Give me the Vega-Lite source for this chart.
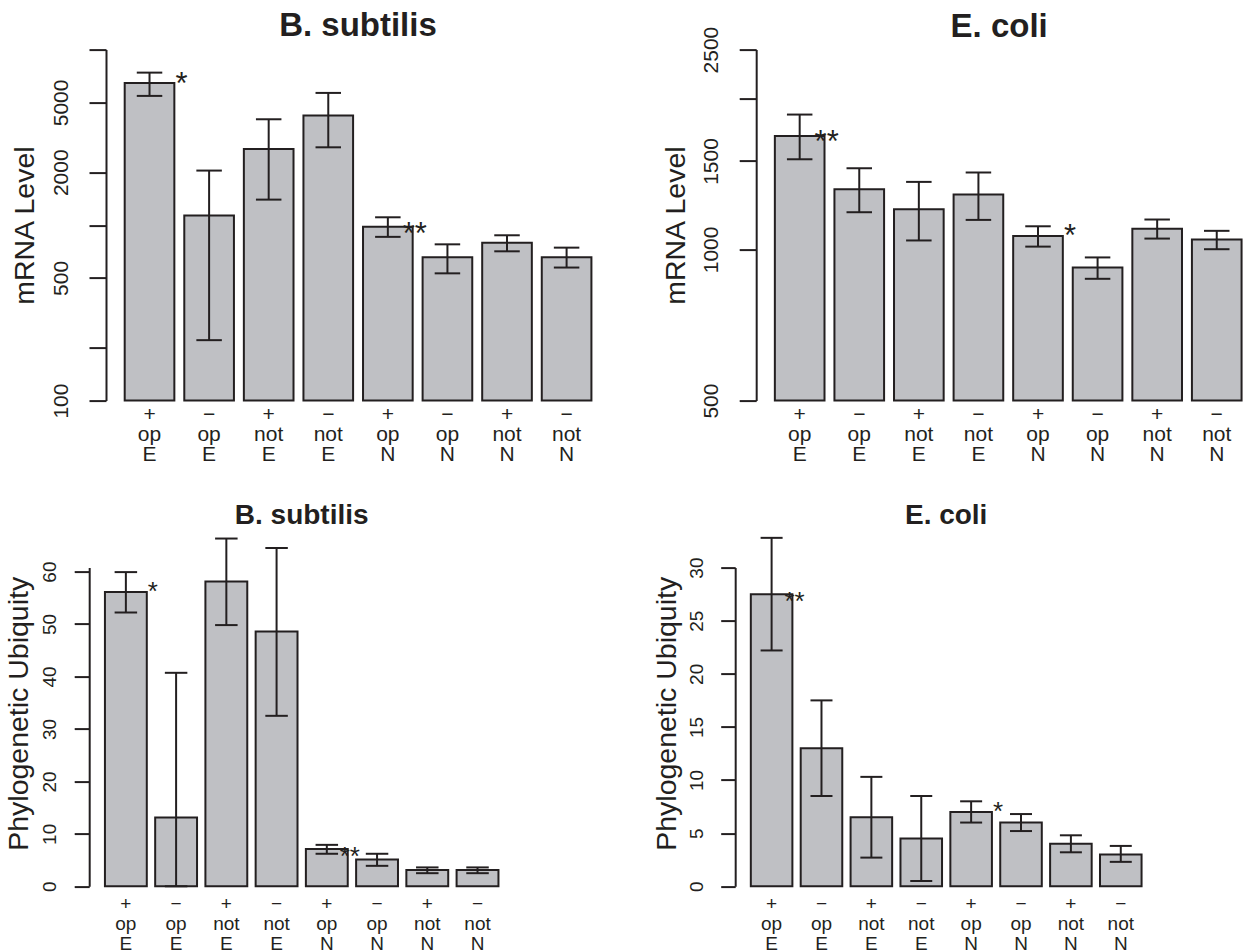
{
  "$schema": "https://vega.github.io/schema/vega-lite/v6.json",
  "background": "white",
  "padding": {"left": 4.2, "top": 9.6, "right": 0, "bottom": 0},
  "config": {
    "view": {"stroke": null},
    "font": "Liberation Sans",
    "axis": {"grid": false, "domainColor": "#231f20", "tickColor": "#231f20", "labelColor": "#231f20", "titleColor": "#231f20", "labelFont": "Liberation Sans", "titleFont": "Liberation Sans", "titleFontWeight": "normal", "domainWidth": 2, "tickWidth": 2, "labelFlush": false, "labelOverlap": false},
    "title": {"font": "Liberation Sans", "fontWeight": "bold", "color": "#231f20", "frame": "group", "anchor": "middle"}
  },
  "datasets": {
    "bs_mrna": [
      {"group": "+|op|E", "mean": 6457, "lo": 5447, "hi": 7393, "sig": "*"},
      {"group": "−|op|E", "mean": 1133, "lo": 221, "hi": 2045, "sig": ""},
      {"group": "+|not|E", "mean": 2718, "lo": 1397, "hi": 4009, "sig": ""},
      {"group": "−|not|E", "mean": 4206, "lo": 2775, "hi": 5665, "sig": ""},
      {"group": "+|op|N", "mean": 980, "lo": 857, "hi": 1108, "sig": "**"},
      {"group": "−|op|N", "mean": 655, "lo": 531, "hi": 777, "sig": ""},
      {"group": "+|not|N", "mean": 792, "lo": 709, "hi": 875, "sig": ""},
      {"group": "−|not|N", "mean": 655, "lo": 573, "hi": 744, "sig": ""}
    ],
    "ec_mrna": [
      {"group": "+|op|E", "mean": 1683, "lo": 1512, "hi": 1856, "sig": "**"},
      {"group": "−|op|E", "mean": 1318, "lo": 1186, "hi": 1451, "sig": ""},
      {"group": "+|not|E", "mean": 1202, "lo": 1042, "hi": 1363, "sig": ""},
      {"group": "−|not|E", "mean": 1286, "lo": 1145, "hi": 1423, "sig": ""},
      {"group": "+|op|N", "mean": 1063, "lo": 1013, "hi": 1112, "sig": "*"},
      {"group": "−|op|N", "mean": 920, "lo": 874, "hi": 964, "sig": ""},
      {"group": "+|not|N", "mean": 1099, "lo": 1051, "hi": 1147, "sig": ""},
      {"group": "−|not|N", "mean": 1046, "lo": 1001, "hi": 1089, "sig": ""}
    ],
    "bs_ubiq": [
      {"group": "+|op|E", "mean": 56.1, "lo": 52.2, "hi": 59.9, "sig": "*"},
      {"group": "−|op|E", "mean": 13.1, "lo": 0, "hi": 40.7, "sig": ""},
      {"group": "+|not|E", "mean": 58.1, "lo": 49.8, "hi": 66.3, "sig": ""},
      {"group": "−|not|E", "mean": 48.6, "lo": 32.5, "hi": 64.5, "sig": ""},
      {"group": "+|op|N", "mean": 7.1, "lo": 6.2, "hi": 7.9, "sig": "**"},
      {"group": "−|op|N", "mean": 5.1, "lo": 3.9, "hi": 6.2, "sig": ""},
      {"group": "+|not|N", "mean": 3.1, "lo": 2.5, "hi": 3.6, "sig": ""},
      {"group": "−|not|N", "mean": 3.1, "lo": 2.5, "hi": 3.6, "sig": ""}
    ],
    "ec_ubiq": [
      {"group": "+|op|E", "mean": 27.5, "lo": 22.2, "hi": 32.8, "sig": "**"},
      {"group": "−|op|E", "mean": 13.0, "lo": 8.5, "hi": 17.5, "sig": ""},
      {"group": "+|not|E", "mean": 6.5, "lo": 2.7, "hi": 10.3, "sig": ""},
      {"group": "−|not|E", "mean": 4.5, "lo": 0.5, "hi": 8.5, "sig": ""},
      {"group": "+|op|N", "mean": 7.0, "lo": 6.0, "hi": 8.0, "sig": "*"},
      {"group": "−|op|N", "mean": 6.0, "lo": 5.2, "hi": 6.8, "sig": ""},
      {"group": "+|not|N", "mean": 4.0, "lo": 3.2, "hi": 4.8, "sig": ""},
      {"group": "−|not|N", "mean": 3.0, "lo": 2.3, "hi": 3.8, "sig": ""}
    ]
  },
  "columns": 1,
  "align": "none",
  "spacing": 37,
  "concat": [
    {
      "spacing": 51,
      "hconcat": [
        {
          "data": {"name": "bs_mrna"},
          "width": 520.8, "height": 351,
          "title": {"text": "B. subtilis", "fontSize": 33, "offset": 5.4, "dx": 8.4},
          "encoding": {
            "x": {"field": "group", "type": "nominal", "sort": null,
              "scale": {"paddingInner": 0.1667, "paddingOuter": 0.4538, "align": 0.6565},
              "axis": {"title": null, "domain": false, "ticks": false, "tickSize": 0, "labelAngle": 0, "labelAlign": "center", "labelBaseline": "alphabetic", "labelFontSize": 21, "labelLineHeight": 20, "labelPadding": 20, "labelExpr": "split(datum.label, '|')"}},
            "y": {"field": "mean", "type": "quantitative", "scale": {"type": "log", "domain": [100, 10000], "nice": false},
              "axis": {"title": "mRNA Level", "offset": -16.8, "titleFontSize": 28.5, "titleBaseline": "alphabetic", "titleX": -72,
                "values": [100, 200, 500, 1000, 2000, 5000, 10000],
                "labelExpr": "indexof([100, 500, 2000, 5000], datum.value) >= 0 ? format(datum.value, 'd') : ''",
                "labelAngle": -90, "labelAlign": "center", "labelBaseline": "alphabetic", "labelFontSize": 21, "labelPadding": 21.3, "tickSize": 17}}
          },
          "layer": [
            {"mark": {"type": "bar", "fill": "#bfc0c4", "stroke": "#231f20", "strokeWidth": 2},
             "encoding": {"y2": {"datum": 100}}},
            {"mark": {"type": "rule", "strokeWidth": 2, "color": "#231f20"},
             "encoding": {"y": {"field": "lo", "type": "quantitative", "title": "mRNA Level"}, "y2": {"field": "hi"}}},
            {"mark": {"type": "tick", "orient": "horizontal", "size": 25.5, "thickness": 2, "color": "#231f20", "opacity": 1},
             "encoding": {"y": {"field": "lo", "type": "quantitative", "title": "mRNA Level"}}},
            {"mark": {"type": "tick", "orient": "horizontal", "size": 25.5, "thickness": 2, "color": "#231f20", "opacity": 1},
             "encoding": {"y": {"field": "hi", "type": "quantitative", "title": "mRNA Level"}}},
            {"transform": [{"filter": "datum.sig == '*'"}],
             "mark": {"type": "text", "fontSize": 31, "dx": 32, "dy": 11.5, "align": "center", "baseline": "alphabetic", "color": "#231f20"},
             "encoding": {"text": {"field": "sig"}}},
            {"transform": [{"filter": "datum.sig == '**'"}],
             "mark": {"type": "text", "fontSize": 31, "dx": 27, "dy": 17, "align": "center", "baseline": "alphabetic", "color": "#231f20"},
             "encoding": {"text": {"field": "sig"}}}
          ]
        },
        {
          "data": {"name": "ec_mrna"},
          "width": 486, "height": 351,
          "title": {"text": "E. coli", "fontSize": 33, "offset": -17.6},
          "encoding": {
            "x": {"field": "group", "type": "nominal", "sort": null,
              "scale": {"paddingInner": 0.1667, "paddingOuter": 0.1618, "align": 0.968},
              "axis": {"title": null, "domain": false, "ticks": false, "tickSize": 0, "labelAngle": 0, "labelAlign": "center", "labelBaseline": "alphabetic", "labelFontSize": 21, "labelLineHeight": 20, "labelPadding": 20, "labelExpr": "split(datum.label, '|')"}},
            "y": {"field": "mean", "type": "quantitative", "scale": {"type": "log", "domain": [500, 2500], "nice": false},
              "axis": {"title": "mRNA Level", "titleFontSize": 28.5, "titleBaseline": "alphabetic", "titleX": -71.7,
                "values": [500, 1000, 1500, 2000, 2500],
                "labelExpr": "datum.value == 2000 ? '' : format(datum.value, 'd')",
                "labelAngle": -90, "labelAlign": "center", "labelBaseline": "alphabetic", "labelFontSize": 21, "labelPadding": 21.3, "tickSize": 17}}
          },
          "layer": [
            {"mark": {"type": "bar", "fill": "#bfc0c4", "stroke": "#231f20", "strokeWidth": 2},
             "encoding": {"y2": {"datum": 500}}},
            {"mark": {"type": "rule", "strokeWidth": 2, "color": "#231f20"},
             "encoding": {"y": {"field": "lo", "type": "quantitative", "title": "mRNA Level"}, "y2": {"field": "hi"}}},
            {"mark": {"type": "tick", "orient": "horizontal", "size": 25.5, "thickness": 2, "color": "#231f20", "opacity": 1},
             "encoding": {"y": {"field": "lo", "type": "quantitative", "title": "mRNA Level"}}},
            {"mark": {"type": "tick", "orient": "horizontal", "size": 25.5, "thickness": 2, "color": "#231f20", "opacity": 1},
             "encoding": {"y": {"field": "hi", "type": "quantitative", "title": "mRNA Level"}}},
            {"transform": [{"filter": "datum.sig == '*'"}],
             "mark": {"type": "text", "fontSize": 31, "dx": 32, "dy": 9.5, "align": "center", "baseline": "alphabetic", "color": "#231f20"},
             "encoding": {"text": {"field": "sig"}}},
            {"transform": [{"filter": "datum.sig == '**'"}],
             "mark": {"type": "text", "fontSize": 31, "dx": 27, "dy": 16, "align": "center", "baseline": "alphabetic", "color": "#231f20"},
             "encoding": {"text": {"field": "sig"}}}
          ]
        }
      ]
    },
    {
      "spacing": 137,
      "hconcat": [
        {
          "data": {"name": "bs_ubiq"},
          "width": 425, "height": 318.7,
          "title": {"text": "B. subtilis", "fontSize": 28, "offset": 7.1},
          "encoding": {
            "x": {"field": "group", "type": "nominal", "sort": null,
              "scale": {"paddingInner": 0.1667, "paddingOuter": 0.3133},
              "axis": {"title": null, "domain": false, "ticks": false, "tickSize": 0, "labelAngle": 0, "labelAlign": "center", "labelBaseline": "alphabetic", "labelFontSize": 19, "labelLineHeight": 20, "labelPadding": 23.3, "labelExpr": "split(datum.label, '|')"}},
            "y": {"field": "mean", "type": "quantitative", "scale": {"domain": [0, 60.76], "nice": false},
              "axis": {"title": "Phylogenetic Ubiquity", "titleFontSize": 28.5, "titleBaseline": "alphabetic", "titleX": -61.5, "titleY": 145.7,
                "values": [0, 10, 20, 30, 40, 50, 60],
                "labelAngle": -90, "labelAlign": "center", "labelBaseline": "alphabetic", "labelFontSize": 19, "labelPadding": 18.5, "tickSize": 15}}
          },
          "layer": [
            {"mark": {"type": "bar", "fill": "#bfc0c4", "stroke": "#231f20", "strokeWidth": 2}},
            {"mark": {"type": "rule", "strokeWidth": 2, "color": "#231f20"},
             "encoding": {"y": {"field": "lo", "type": "quantitative", "title": "Phylogenetic Ubiquity"}, "y2": {"field": "hi"}}},
            {"mark": {"type": "tick", "orient": "horizontal", "size": 22.5, "thickness": 2, "color": "#231f20", "opacity": 1},
             "encoding": {"y": {"field": "lo", "type": "quantitative", "title": "Phylogenetic Ubiquity"}}},
            {"mark": {"type": "tick", "orient": "horizontal", "size": 22.5, "thickness": 2, "color": "#231f20", "opacity": 1},
             "encoding": {"y": {"field": "hi", "type": "quantitative", "title": "Phylogenetic Ubiquity"}}},
            {"transform": [{"filter": "datum.sig == '*'"}],
             "mark": {"type": "text", "fontSize": 26, "dx": 27, "dy": 8, "align": "center", "baseline": "alphabetic", "color": "#231f20"},
             "encoding": {"text": {"field": "sig"}}},
            {"transform": [{"filter": "datum.sig == '**'"}],
             "mark": {"type": "text", "fontSize": 26, "dx": 23, "dy": 16, "align": "center", "baseline": "alphabetic", "color": "#231f20"},
             "encoding": {"text": {"field": "sig"}}}
          ]
        },
        {
          "data": {"name": "ec_ubiq"},
          "width": 422, "height": 318.7,
          "title": {"text": "E. coli", "fontSize": 28, "offset": 6.5},
          "encoding": {
            "x": {"field": "group", "type": "nominal", "sort": null,
              "scale": {"paddingInner": 0.1667, "paddingOuter": 0.3133},
              "axis": {"title": null, "domain": false, "ticks": false, "tickSize": 0, "labelAngle": 0, "labelAlign": "center", "labelBaseline": "alphabetic", "labelFontSize": 19, "labelLineHeight": 20, "labelPadding": 23.3, "labelExpr": "split(datum.label, '|')"}},
            "y": {"field": "mean", "type": "quantitative", "scale": {"domain": [0, 30], "nice": false},
              "axis": {"title": "Phylogenetic Ubiquity", "titleFontSize": 28.5, "titleBaseline": "alphabetic", "titleX": -60, "titleY": 145.7,
                "values": [0, 5, 10, 15, 20, 25, 30],
                "labelAngle": -90, "labelAlign": "center", "labelBaseline": "alphabetic", "labelFontSize": 19, "labelPadding": 18.4, "tickSize": 14.5}}
          },
          "layer": [
            {"mark": {"type": "bar", "fill": "#bfc0c4", "stroke": "#231f20", "strokeWidth": 2}},
            {"mark": {"type": "rule", "strokeWidth": 2, "color": "#231f20"},
             "encoding": {"y": {"field": "lo", "type": "quantitative", "title": "Phylogenetic Ubiquity"}, "y2": {"field": "hi"}}},
            {"mark": {"type": "tick", "orient": "horizontal", "size": 22, "thickness": 2, "color": "#231f20", "opacity": 1},
             "encoding": {"y": {"field": "lo", "type": "quantitative", "title": "Phylogenetic Ubiquity"}}},
            {"mark": {"type": "tick", "orient": "horizontal", "size": 22, "thickness": 2, "color": "#231f20", "opacity": 1},
             "encoding": {"y": {"field": "hi", "type": "quantitative", "title": "Phylogenetic Ubiquity"}}},
            {"transform": [{"filter": "datum.sig == '*'"}],
             "mark": {"type": "text", "fontSize": 26, "dx": 27, "dy": 8.5, "align": "center", "baseline": "alphabetic", "color": "#231f20"},
             "encoding": {"text": {"field": "sig"}}},
            {"transform": [{"filter": "datum.sig == '**'"}],
             "mark": {"type": "text", "fontSize": 26, "dx": 23, "dy": 16, "align": "center", "baseline": "alphabetic", "color": "#231f20"},
             "encoding": {"text": {"field": "sig"}}}
          ]
        }
      ]
    }
  ]
}
